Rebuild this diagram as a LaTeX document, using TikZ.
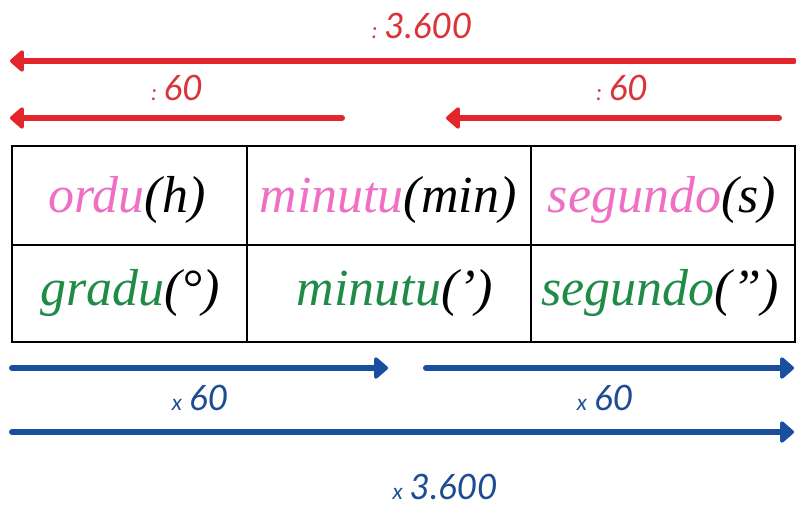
\documentclass[tikz,border=0pt]{standalone}
\usepackage{fontspec}
\setmainfont{Liberation Serif}
\newfontfamily\labelfont{Lato}
\usetikzlibrary{arrows.meta}
\definecolor{redarrow}{HTML}{E3262B}
\definecolor{redtext}{HTML}{D8343A}
\definecolor{bluearrow}{HTML}{1A4E9E}
\definecolor{bluetext}{HTML}{1D4C93}
\definecolor{pinkword}{HTML}{EE6FC3}
\definecolor{greenword}{HTML}{1F8B46}
\newcommand{\smallsym}[1]{{\fontsize{22}{22}\selectfont #1}\hspace{7pt}}
\begin{document}
\begin{tikzpicture}[x=1pt,y=-1pt,
  redarr/.style={draw=redarrow, line width=6pt, line cap=round,
    -{Triangle[round,length=15pt,width=25pt]}},
  bluearr/.style={draw=bluearrow, line width=6pt, line cap=round,
    -{Triangle[round,length=15pt,width=25pt]}},
  redlbl/.style={text=redtext, font=\labelfont\itshape\fontsize{35}{35}\selectfont, inner sep=0pt},
  bluelbl/.style={text=bluetext, font=\labelfont\itshape\fontsize{35}{35}\selectfont, inner sep=0pt},
  cell/.style={anchor=base, inner sep=0pt, font=\itshape\fontsize{52}{52}\selectfont},
  grid/.style={draw=black, line width=2pt}
]
\useasboundingbox (0,0) rectangle (796,507);
% red arrows
\coordinate (r1s) at (794,61);
\coordinate (r1e) at (10,61);
\draw[redarr] (r1s) -- (r1e);
\node[redlbl] (l3600a) at (422,26) {\smallsym{:}3.600};
\coordinate (r2s) at (342,118);
\coordinate (r2e) at (10,118);
\draw[redarr] (r2s) -- (r2e);
\node[redlbl] (l60a) at (177,88) {\smallsym{:}60};
\coordinate (r3s) at (779,118);
\coordinate (r3e) at (446,118);
\draw[redarr] (r3s) -- (r3e);
\node[redlbl] (l60b) at (622,88) {\smallsym{:}60};
% table
\draw[grid] (12,146) rectangle (795,342);
\draw[grid] (12,245) -- (795,245);
\draw[grid] (247,146) -- (247,342);
\draw[grid] (531,146) -- (531,342);
\node[cell] (ordu) at (127,212) {\textcolor{pinkword}{ordu}(h)};
\node[cell] (minh) at (388,212) {\textcolor{pinkword}{minutu}(min)};
\node[cell] (segh) at (662,212) {\textcolor{pinkword}{segundo}(s)};
\node[cell] (gradu) at (130,305) {\textcolor{greenword}{gradu}(°)};
\node[cell] (mina) at (395,305) {\textcolor{greenword}{minutu}(')};
\node[cell] (sega) at (660,305) {\textcolor{greenword}{segundo}('')};
% blue arrows
\coordinate (b1s) at (12,368);
\coordinate (b1e) at (388,368);
\draw[bluearr] (b1s) -- (b1e);
\node[bluelbl] (x60a) at (200,398) {\smallsym{x}60};
\coordinate (b2s) at (426,368);
\coordinate (b2e) at (794,368);
\draw[bluearr] (b2s) -- (b2e);
\node[bluelbl] (x60b) at (605,398) {\smallsym{x}60};
\coordinate (b3s) at (12,432);
\coordinate (b3e) at (794,432);
\draw[bluearr] (b3s) -- (b3e);
\node[bluelbl] (x3600) at (445,487) {\smallsym{x}3.600};
\end{tikzpicture}
\end{document}
